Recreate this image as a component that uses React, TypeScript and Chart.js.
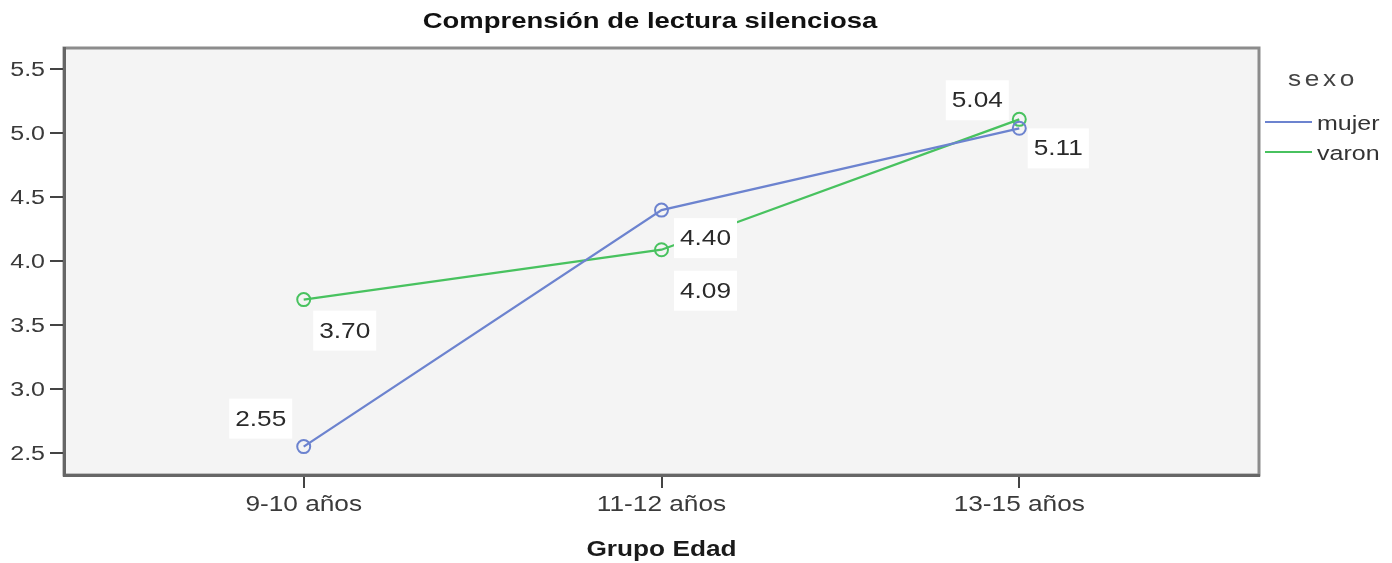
import React, { useEffect, useRef } from "react";
import { Chart, registerables } from "chart.js";

Chart.register(...registerables);

const chartTitle = "Comprensión de lectura silenciosa";
const xAxisTitle = "Grupo Edad";
const legendTitle = "sexo";
const categories = ["9-10 años", "11-12 años", "13-15 años"];
const seriesNames = ["mujer", "varon"];
const mujerValues = [2.55, 4.4, 5.04];
const varonValues = [3.7, 4.09, 5.11];
const yTickValues = [2.5, 3.0, 3.5, 4.0, 4.5, 5.0, 5.5];

// style: label box offsets (px) relative to each point
const mujerLabelOffsets = [[-43, -28], [44, 28], [-42, -28]];
const varonLabelOffsets = [[41, 31], [44, 41], [39, 29]];
const seriesColors = ["#6c83cf", "#48c25f"];

const FONT = '"Liberation Sans", Arial, sans-serif';
const SX = 1.22;

function sText(ctx: CanvasRenderingContext2D, text: string, x: number, y: number, align: CanvasTextAlign, font: string, color: string, spacing = 0) {
  ctx.save();
  ctx.font = font;
  ctx.fillStyle = color;
  ctx.textAlign = align;
  ctx.textBaseline = "middle";
  (ctx as any).letterSpacing = spacing + "px";
  ctx.translate(x, y);
  ctx.scale(SX, 1);
  ctx.fillText(text, 0, 0);
  ctx.restore();
}

const decorPlugin = {
  id: "decor",
  beforeDraw(chart: any) {
    const { ctx, chartArea: a } = chart;
    ctx.save();
    ctx.fillStyle = "#ffffff";
    ctx.fillRect(0, 0, chart.width, chart.height);
    ctx.fillStyle = "#f4f4f4";
    ctx.fillRect(a.left, a.top, a.right - a.left, a.bottom - a.top);
    ctx.strokeStyle = "#8c8c8c";
    ctx.lineWidth = 3;
    ctx.strokeRect(a.left, a.top, a.right - a.left, a.bottom - a.top);
    ctx.restore();
  },
  afterDatasetsDraw(chart: any) {
    const ctx = chart.ctx as CanvasRenderingContext2D;
    const offsets = [mujerLabelOffsets, varonLabelOffsets];
    chart.data.datasets.forEach((ds: any, di: number) => {
      const meta = chart.getDatasetMeta(di);
      meta.data.forEach((pt: any, i: number) => {
        const v = ds.data[i].y as number;
        const txt = v.toFixed(2);
        const cx = pt.x + offsets[di][i][0];
        const cy = pt.y + offsets[di][i][1];
        ctx.save();
        ctx.font = "21.5px " + FONT;
        const w = ctx.measureText(txt).width * SX + 12;
        const h = 40;
        ctx.fillStyle = "#ffffff";
        ctx.fillRect(cx - w / 2, cy - h / 2, w, h);
        ctx.restore();
        sText(ctx, txt, cx, cy + 1, "center", "21.5px " + FONT, "#2a2a2a");
      });
    });
  },
  afterDraw(chart: any) {
    const ctx = chart.ctx as CanvasRenderingContext2D;
    const a = chart.chartArea;
    const xs = chart.scales.x;
    const ys = chart.scales.y;
    ys.ticks.forEach((t: any) => {
      const y = ys.getPixelForValue(t.value);
      sText(ctx, t.value.toFixed(1), a.left - 19, y + 1, "right", "20.5px " + FONT, "#3a3a3a");
    });
    xs.ticks.forEach((t: any) => {
      const x = xs.getPixelForValue(t.value);
      sText(ctx, categories[t.value], x, a.bottom + 30, "center", "21.5px " + FONT, "#3a3a3a");
    });
    sText(ctx, chartTitle, 650, 22, "center", "bold 22.5px " + FONT, "#111111");
    sText(ctx, xAxisTitle, (a.left + a.right) / 2, 550, "center", "bold 21.5px " + FONT, "#1a1a1a");
    sText(ctx, legendTitle, 1323, 80, "center", "21.5px " + FONT, "#444444", 3);
    const ly = [122, 152];
    seriesNames.forEach((name, i) => {
      ctx.save();
      ctx.strokeStyle = seriesColors[i];
      ctx.lineWidth = 2;
      ctx.beginPath();
      ctx.moveTo(1265, ly[i]);
      ctx.lineTo(1312, ly[i]);
      ctx.stroke();
      ctx.restore();
      sText(ctx, name, 1317, ly[i] + 2, "left", "20.5px " + FONT, "#333333");
    });
  },
};

export default function App() {
  const ref = useRef<HTMLCanvasElement>(null);
  useEffect(() => {
    if (!ref.current) return;
    const mk = (vals: number[]) => vals.map((v, i) => ({ x: i, y: v }));
    const chart = new Chart(ref.current, {
      type: "line",
      data: {
        datasets: [mujerValues, varonValues].map((vals, i) => ({
          label: seriesNames[i],
          data: mk(vals),
          borderColor: seriesColors[i],
          backgroundColor: "rgba(0,0,0,0)",
          borderWidth: 2.3,
          pointRadius: 6.5,
          pointBorderWidth: 2,
          pointBorderColor: seriesColors[i],
          pointBackgroundColor: "rgba(0,0,0,0)",
          tension: 0,
        })),
      },
      options: {
        animation: false,
        responsive: true,
        maintainAspectRatio: false,
        layout: { padding: { top: 48, right: 133, left: 0, bottom: 0 } },
        plugins: { legend: { display: false }, title: { display: false }, tooltip: { enabled: false } },
        scales: {
          x: {
            type: "linear",
            min: -0.67,
            max: 2.67,
            afterBuildTicks: (s: any) => {
              s.ticks = categories.map((_, i) => ({ value: i }));
            },
            afterFit: (s: any) => {
              s.height = 88;
            },
            ticks: { display: false },
            grid: { drawOnChartArea: false, drawTicks: true, tickLength: 13, color: "#444444", lineWidth: 2 },
            border: { display: true, color: "#666666", width: 3 },
          },
          y: {
            type: "linear",
            min: 2.328,
            max: 5.668,
            afterBuildTicks: (s: any) => {
              s.ticks = yTickValues.map((v) => ({ value: v }));
            },
            afterFit: (s: any) => {
              s.width = 64;
            },
            ticks: { display: false },
            grid: { drawOnChartArea: false, drawTicks: true, tickLength: 14, color: "#444444", lineWidth: 2 },
            border: { display: true, color: "#666666", width: 3 },
          },
        },
      } as any,
      plugins: [decorPlugin],
    });
    return () => chart.destroy();
  }, []);
  return (
    <div style={{ position: "absolute", left: 0, top: 0, width: 1392, height: 563 }}>
      <canvas ref={ref} />
    </div>
  );
}
